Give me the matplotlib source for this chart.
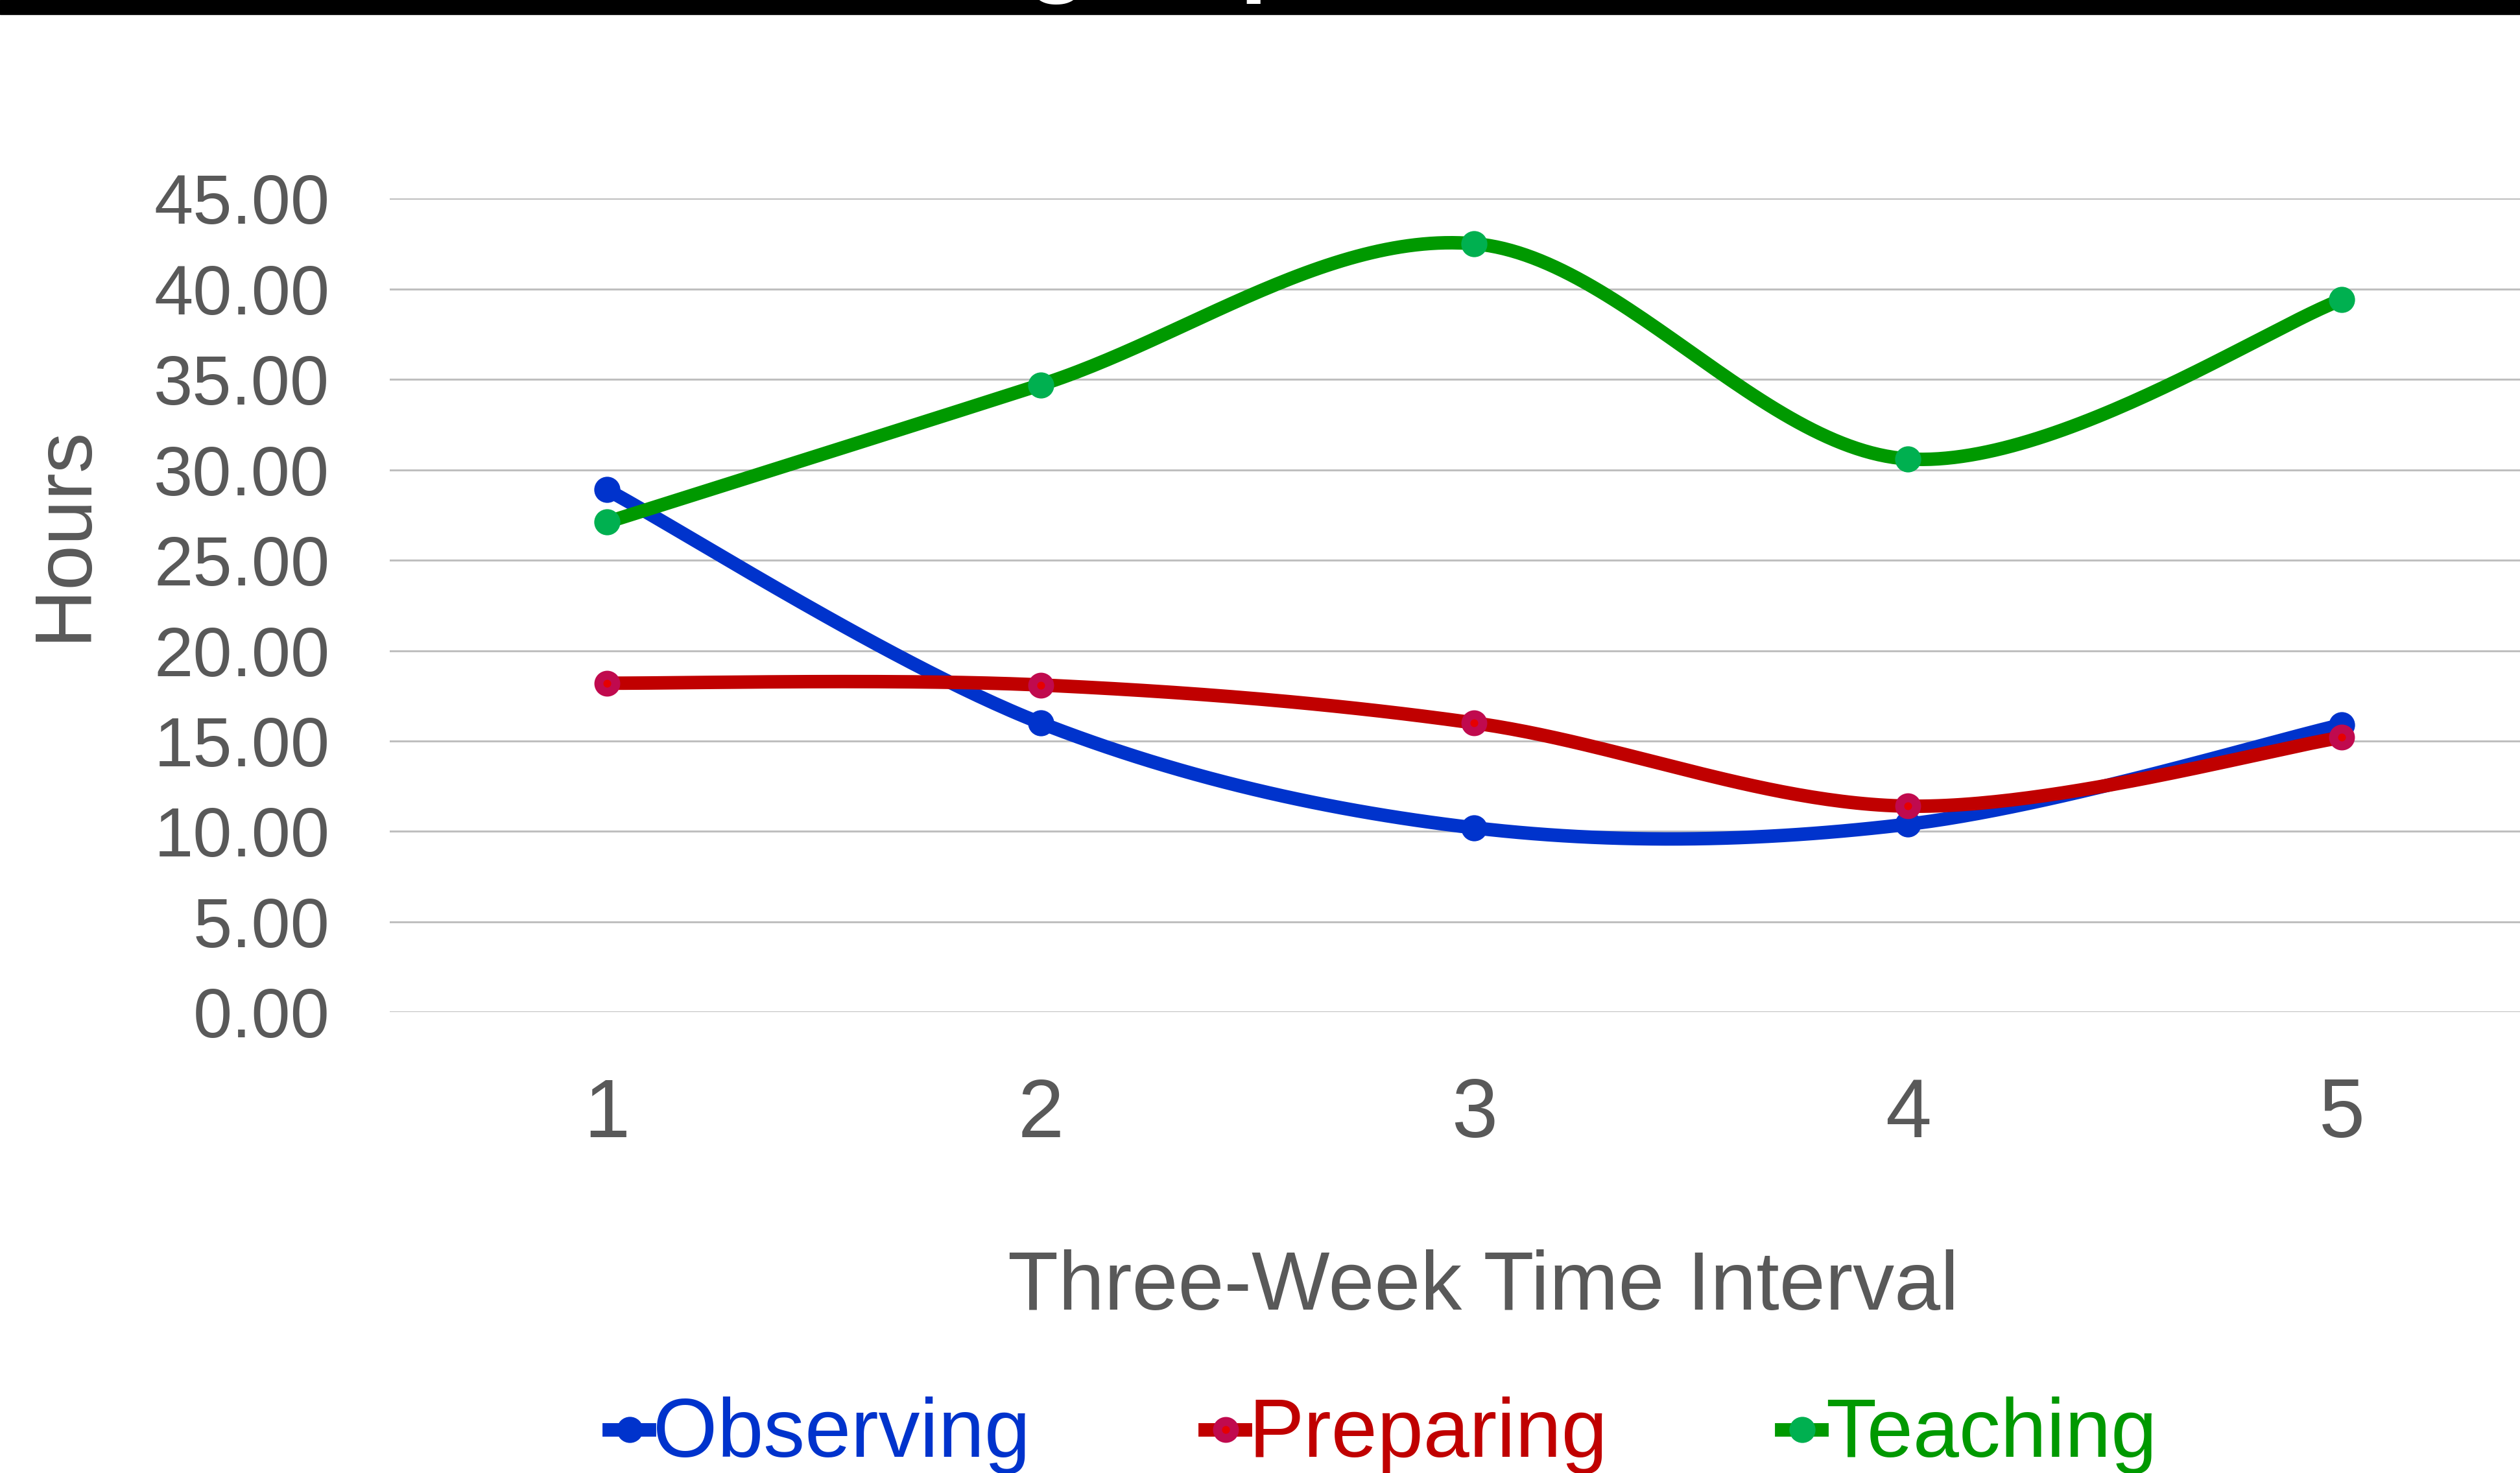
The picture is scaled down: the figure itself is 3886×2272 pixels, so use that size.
import numpy as np
import matplotlib.pyplot as plt
from matplotlib.lines import Line2D
from matplotlib.patches import Rectangle

plt.rcParams['font.family'] = ['Liberation Sans', 'DejaVu Sans']

# data
intervals = [1, 2, 3, 4, 5]
observing = [28.9, 16.0, 10.2, 10.4, 15.9]
preparing = [18.2, 18.1, 16.0, 11.4, 15.2]
teaching = [27.1, 34.7, 42.5, 30.6, 39.4]
y_ticks = [0, 5, 10, 15, 20, 25, 30, 35, 40, 45]

W, H = 3887, 2272
TXT = '#595959'


def smooth(xs, ys, n=60):
    # Excel-like smoothed line: Catmull-Rom bezier segments
    x = np.asarray(xs, float)
    y = np.asarray(ys, float)
    px = np.concatenate([[x[0]], x, [x[-1]]])
    py = np.concatenate([[y[0]], y, [y[-1]]])
    out_x, out_y = [], []
    t = np.linspace(0, 1, n)
    for i in range(1, len(px) - 2):
        p0 = np.array([px[i], py[i]])
        p3 = np.array([px[i + 1], py[i + 1]])
        c1 = p0 + (np.array([px[i + 1], py[i + 1]]) - np.array([px[i - 1], py[i - 1]])) / 6
        c2 = p3 - (np.array([px[i + 2], py[i + 2]]) - np.array([px[i], py[i]])) / 6
        b = ((1 - t) ** 3)[:, None] * p0 + (3 * (1 - t) ** 2 * t)[:, None] * c1 \
            + (3 * (1 - t) * t ** 2)[:, None] * c2 + (t ** 3)[:, None] * p3
        out_x.extend(b[:, 0])
        out_y.extend(b[:, 1])
    return out_x, out_y


fig = plt.figure(figsize=(W / 100, H / 100), dpi=100)
ax = fig.add_axes([601.5 / W, 1 - 1561.4 / H, 3344 / W, 1255.2 / H])

series = [
    ('Observing', observing, '#0033CC', dict(mfc='#0033CC', mec='#0033CC', ms=27, mew=2)),
    ('Preparing', preparing, '#C00000', dict(mfc='#E60000', mec='#C00A4E', ms=18.7, mew=10)),
    ('Teaching', teaching, '#009900', dict(mfc='#00B050', mec='#00B050', ms=27, mew=2)),
]

for name, vals, col, mk in series:
    sx, sy = smooth(intervals, vals)
    ax.plot(sx, sy, color=col, lw=15, solid_capstyle='round', zorder=3)
    ax.plot(intervals, vals, ls='none', marker='o', zorder=3, **mk)

ax.set_xlim(0.5, 5.5)
ax.set_ylim(0, 45)
ax.set_yticks(y_ticks)
ax.set_yticklabels([f'{v:.2f}' for v in y_ticks])
ax.set_xticks(intervals)
ax.set_xticklabels([str(i) for i in intervals])
ax.grid(axis='y', color='#BFBFBF', lw=2.2)
ax.set_axisbelow(True)
for s in ax.spines.values():
    s.set_visible(False)
ax.tick_params(axis='y', length=0, pad=67, labelsize=78, labelcolor=TXT)
ax.tick_params(axis='x', length=0, pad=72, labelsize=92, labelcolor=TXT)

# axis titles
fig.text(132 / W, 1 - 822 / H, 'Hours', rotation=90, rotation_mode='anchor',
         ha='center', va='baseline', fontsize=90, color=TXT)
fig.text(2287 / W, 1 - 2020 / H, 'Three-Week Time Interval', ha='center',
         va='baseline', fontsize=92, color=TXT)

# legend along the bottom
leg_x = [971, 1890, 2779]
for (name, vals, col, mk), cx in zip(series, leg_x):
    fig.add_artist(Line2D([(cx - 32) / W, (cx + 30) / W], [1 - 2205 / H] * 2,
                          color=col, lw=15, transform=fig.transFigure))
    fig.add_artist(Line2D([cx / W], [1 - 2205 / H], ls='none', marker='o',
                          transform=fig.transFigure, **mk))
    fig.text((cx + 36) / W, 1 - 2247 / H, name, ha='left', va='baseline',
             fontsize=92, color=col)

# cut-off title strip at the top
fig.add_artist(Rectangle((0, 1 - 22 / H), 1, 22 / H, transform=fig.transFigure,
                         color='black', zorder=5))
fig.text(385 / W, 1 + 26 / H, 'Student Teaching Experience Hours', ha='left',
         va='baseline', fontsize=112, fontweight='bold', color='white', zorder=6)

fig.savefig('out.png', dpi=100)
